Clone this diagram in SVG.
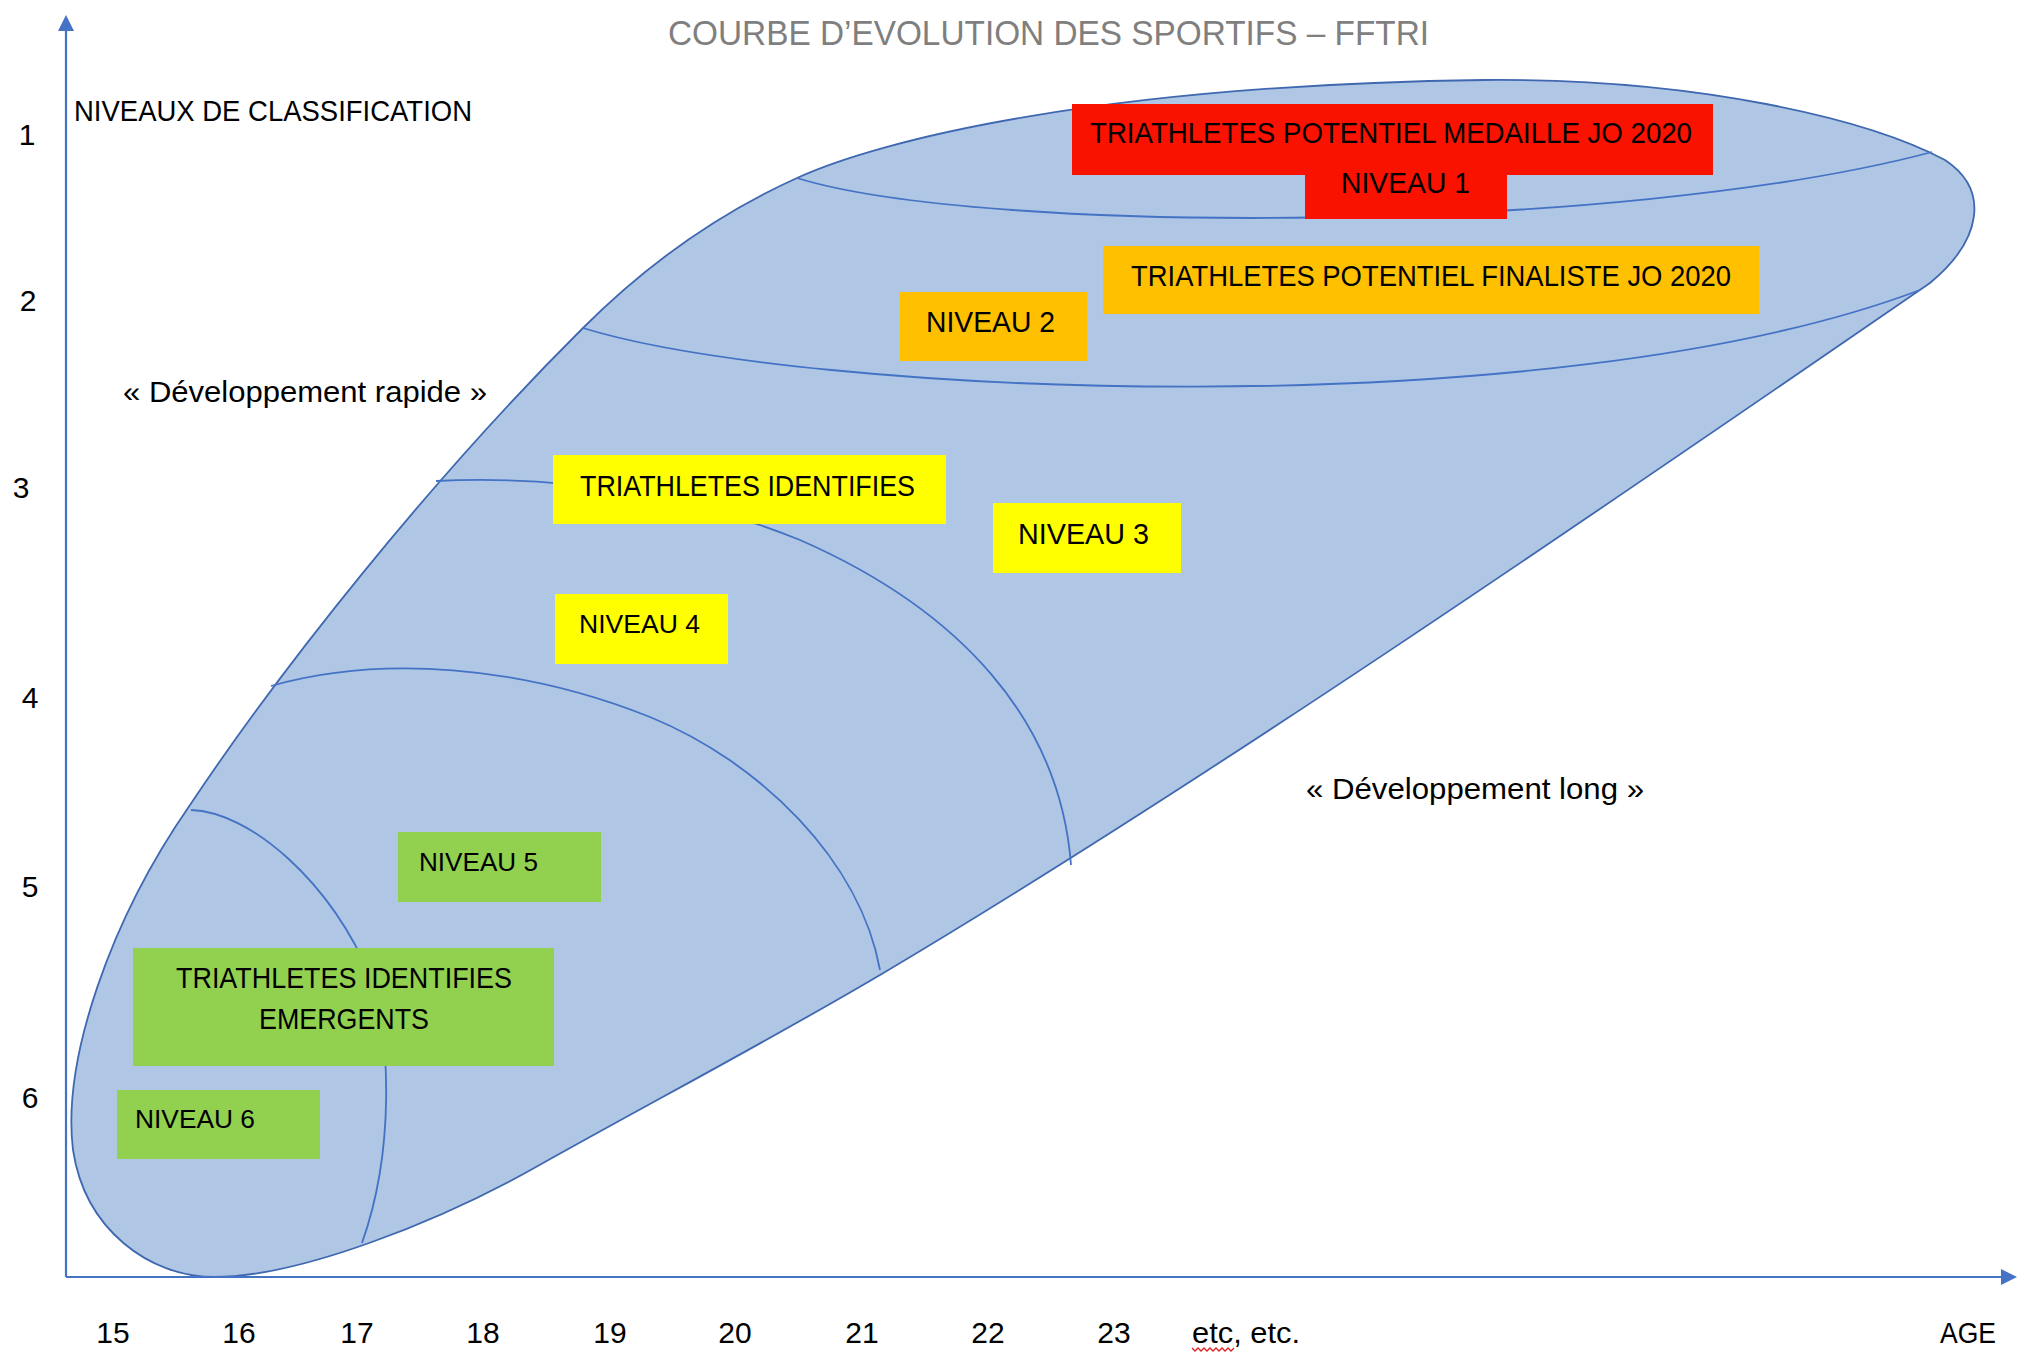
<svg xmlns="http://www.w3.org/2000/svg" width="2022" height="1367" viewBox="0 0 2022 1367">
<style>
text{font-family:"Liberation Sans","Arial",sans-serif;fill:#000}
.t{font-size:29px}
.s{font-size:25px}
.n{font-size:30px;text-anchor:middle}
.ttl{font-size:35px;fill:#7f7f7f}
.ln{fill:none;stroke:#4472c4;stroke-width:1.8}
.ax{fill:none;stroke:#4472c4;stroke-width:2.2}
</style>
<defs>
<marker id="arr" viewBox="0 0 16 16" refX="2" refY="8" markerWidth="16" markerHeight="16" markerUnits="userSpaceOnUse" orient="auto">
<path d="M0,0 L16,8 L0,16 Z" fill="#4472c4"/>
</marker>
</defs>
<rect width="2022" height="1367" fill="#fff"/>

<g id="blob">
<path d="M214,1277 C150,1277 85,1230 73,1150 C62,1060 110,920 190,805 C280,670 430,480 583,328 C643,268 715,215 797,178 C880,140 1100,85 1484,80 C1700,78 1870,120 1945,160 C1990,190 1982,240 1930,283 C1600,510 1200,785 880,975 C770,1040 650,1103 536,1167 C440,1221 300,1277 214,1277 Z" fill="#afc6e4" stroke="#3f68b0" stroke-width="1.8"/>
<path class="ln" d="M797,178 C980,235 1620,235 1932,152"/>
<path class="ln" d="M583,328 C800,395 1550,430 1920,290"/>
<path class="ln" d="M436,481 C560,475 690,495 800,540 C960,610 1060,720 1071,865"/>
<path class="ln" d="M271,686 C380,655 520,665 650,717 C760,762 860,860 880,970"/>
<path class="ln" d="M191,810 C250,812 330,880 372,980 C390,1040 395,1150 362,1243"/>
</g>

<g id="connectors">
<line class="ax" x1="66" y1="1277" x2="66" y2="29" marker-end="url(#arr)"/>
<line class="ax" x1="66" y1="1277" x2="2003" y2="1277" marker-end="url(#arr)"/>
</g>

<g id="title">
<text class="ttl" x="668" y="45" textLength="761" lengthAdjust="spacingAndGlyphs">COURBE D’EVOLUTION DES SPORTIFS – FFTRI</text>
</g>

<g id="axis-labels">
<text class="t" x="74" y="121" textLength="398" lengthAdjust="spacingAndGlyphs">NIVEAUX DE CLASSIFICATION</text>
<text class="n" x="27" y="145">1</text>
<text class="n" x="28" y="311">2</text>
<text class="n" x="21" y="498">3</text>
<text class="n" x="30" y="708">4</text>
<text class="n" x="30" y="897">5</text>
<text class="n" x="30" y="1108">6</text>
<text class="n" x="113" y="1343">15</text>
<text class="n" x="239" y="1343">16</text>
<text class="n" x="357" y="1343">17</text>
<text class="n" x="483" y="1343">18</text>
<text class="n" x="610" y="1343">19</text>
<text class="n" x="735" y="1343">20</text>
<text class="n" x="862" y="1343">21</text>
<text class="n" x="988" y="1343">22</text>
<text class="n" x="1114" y="1343">23</text>
<text style="font-size:30px" x="1192" y="1343" textLength="108" lengthAdjust="spacingAndGlyphs">etc, etc.</text>
<path d="M1192,1348 l3,3 l3,-3 l3,3 l3,-3 l3,3 l3,-3 l3,3 l3,-3 l3,3 l3,-3 l3,3 l3,-3 l3,3 l3,-3" fill="none" stroke="#e02020" stroke-width="1.3"/>
<text style="font-size:30px" x="1940" y="1343" textLength="56" lengthAdjust="spacingAndGlyphs">AGE</text>
</g>

<g id="annotations">
<text class="t" x="123" y="402" textLength="364" lengthAdjust="spacingAndGlyphs">« Développement rapide »</text>
<text class="t" x="1306" y="799" textLength="338" lengthAdjust="spacingAndGlyphs">« Développement long »</text>
</g>

<g id="niveau1">
<path d="M1072,104 H1713 V175 H1507 V219 H1305 V175 H1072 Z" fill="#f91200"/>
<text class="t" x="1090" y="143" textLength="602" lengthAdjust="spacingAndGlyphs">TRIATHLETES POTENTIEL MEDAILLE JO 2020</text>
<text class="t" x="1341" y="193" textLength="129" lengthAdjust="spacingAndGlyphs">NIVEAU 1</text>
</g>

<g id="finaliste">
<rect x="1103" y="246" width="656" height="68" fill="#ffc000"/>
<text class="t" x="1131" y="286" textLength="600" lengthAdjust="spacingAndGlyphs">TRIATHLETES POTENTIEL FINALISTE JO 2020</text>
</g>

<g id="niveau2">
<rect x="900" y="292" width="187" height="69" fill="#ffc000"/>
<text class="t" x="926" y="332" textLength="129" lengthAdjust="spacingAndGlyphs">NIVEAU 2</text>
</g>

<g id="identifies">
<rect x="553" y="455" width="393" height="69" fill="#ffff00"/>
<text class="t" x="580" y="496" textLength="335" lengthAdjust="spacingAndGlyphs">TRIATHLETES IDENTIFIES</text>
</g>

<g id="niveau3">
<rect x="993" y="503" width="188" height="70" fill="#ffff00"/>
<text class="t" x="1018" y="544" textLength="131" lengthAdjust="spacingAndGlyphs">NIVEAU 3</text>
</g>

<g id="niveau4">
<rect x="555" y="594" width="173" height="70" fill="#ffff00"/>
<text class="s" x="579" y="633" textLength="121" lengthAdjust="spacingAndGlyphs">NIVEAU 4</text>
</g>

<g id="niveau5">
<rect x="398" y="832" width="203" height="70" fill="#92d050"/>
<text class="s" x="419" y="871" textLength="119" lengthAdjust="spacingAndGlyphs">NIVEAU 5</text>
</g>

<g id="emergents">
<rect x="133" y="948" width="421" height="118" fill="#92d050"/>
<text class="t" x="176" y="988" textLength="336" lengthAdjust="spacingAndGlyphs">TRIATHLETES IDENTIFIES</text>
<text class="t" x="259" y="1029" textLength="170" lengthAdjust="spacingAndGlyphs">EMERGENTS</text>
</g>

<g id="niveau6">
<rect x="117" y="1090" width="203" height="69" fill="#92d050"/>
<text class="s" x="135" y="1128" textLength="120" lengthAdjust="spacingAndGlyphs">NIVEAU 6</text>
</g>
</svg>
